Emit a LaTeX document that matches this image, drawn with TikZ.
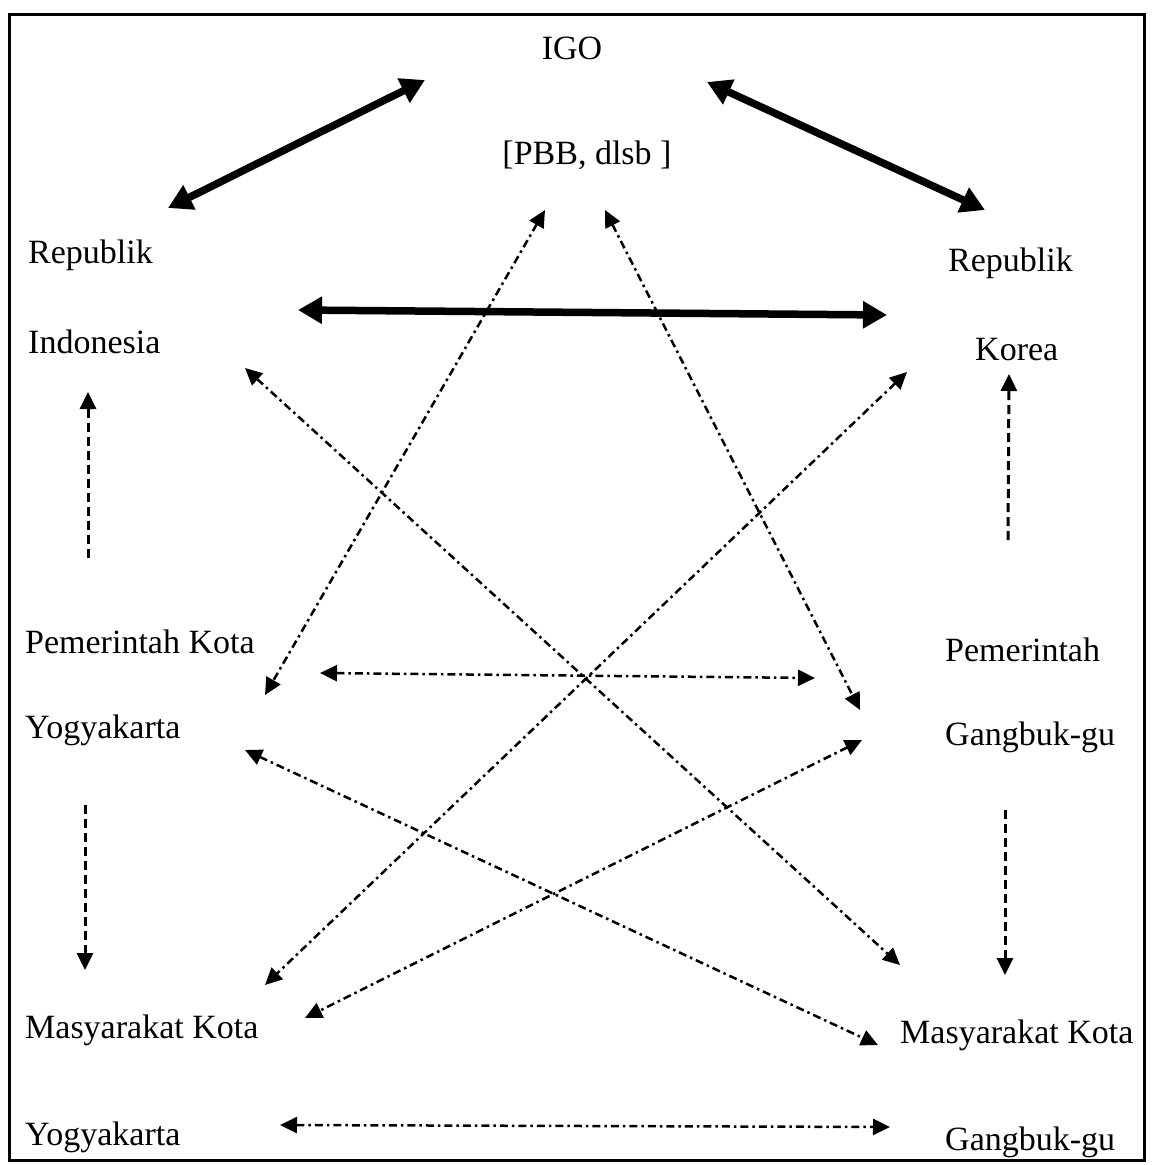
\documentclass[tikz,border=0pt]{standalone}
\usepackage{fontspec}
\setmainfont{Liberation Serif}
\newfontfamily\tnrfont{Liberation Serif}
\usetikzlibrary{arrows.meta}
\begin{document}
\begin{tikzpicture}[x=1pt,y=-1pt,
  lbl/.style={inner sep=0pt,font=\tnrfont\fontsize{34}{40}\selectfont},
  thick2/.style={line width=7.5pt,{Triangle[length=24pt,width=26pt]}-{Triangle[length=24pt,width=26pt]}},
  dd/.style={line width=2.5pt,dash pattern=on 8pt off 4pt on 2.5pt off 4pt,{Triangle[length=17pt,width=16pt]}-{Triangle[length=17pt,width=16pt]}},
  vd/.style={line width=3pt,dash pattern=on 9pt off 5pt,-{Triangle[length=17pt,width=16pt]}}]
\useasboundingbox (0,0) rectangle (1154,1165);
\draw[line width=3pt] (9,14) rectangle (1144,1160);
% texts
\node[lbl,anchor=center] (igo) at (572,48) {IGO};
\node[lbl,anchor=center] (pbb) at (587,155) {[PBB, dlsb ]};
\node[lbl,anchor=west] (ri1) at (28,255) {Republik};
\node[lbl,anchor=west] (ri2) at (28,342) {Indonesia};
\node[lbl,anchor=west] (rk1) at (948,263) {Republik};
\node[lbl,anchor=west] (rk2) at (975,350) {Korea};
\node[lbl,anchor=west] (py1) at (25,642) {Pemerintah Kota};
\node[lbl,anchor=west] (py2) at (25,730) {Yogyakarta};
\node[lbl,anchor=west] (pg1) at (945,650) {Pemerintah};
\node[lbl,anchor=west] (pg2) at (945,737) {Gangbuk-gu};
\node[lbl,anchor=west] (my1) at (25,1030) {Masyarakat Kota};
\node[lbl,anchor=west] (my2) at (25,1137) {Yogyakarta};
\node[lbl,anchor=west] (mg1) at (900,1035) {Masyarakat Kota};
\node[lbl,anchor=west] (mg2) at (945,1142) {Gangbuk-gu};
% connector ends
\coordinate (a1) at (425,80);  \coordinate (a2) at (168,208);
\coordinate (b1) at (707,82);  \coordinate (b2) at (985,210);
\coordinate (c1) at (298,310); \coordinate (c2) at (887,315);
\coordinate (d1) at (545,210); \coordinate (d2) at (265,695);
\coordinate (e1) at (605,210); \coordinate (e2) at (860,710);
\coordinate (f1) at (245,368); \coordinate (f2) at (900,965);
\coordinate (g1) at (907,372); \coordinate (g2) at (265,985);
\coordinate (h1) at (320,673); \coordinate (h2) at (815,678);
\coordinate (i1) at (862,740); \coordinate (i2) at (305,1018);
\coordinate (j1) at (245,750); \coordinate (j2) at (878,1045);
\coordinate (k1) at (280,1125); \coordinate (k2) at (890,1127);
\coordinate (l1) at (88,558);  \coordinate (l2) at (88,392);
\coordinate (m1) at (85,805);  \coordinate (m2) at (85,970);
\coordinate (n1) at (1008,540); \coordinate (n2) at (1009,374);
\coordinate (o1) at (1005,810); \coordinate (o2) at (1005,975);
% connectors
\draw[thick2] (a2) -- (a1);
\draw[thick2] (b1) -- (b2);
\draw[thick2] (c1) -- (c2);
\draw[dd] (d1) -- (d2);
\draw[dd] (e1) -- (e2);
\draw[dd] (f1) -- (f2);
\draw[dd] (g1) -- (g2);
\draw[dd] (h1) -- (h2);
\draw[dd] (i1) -- (i2);
\draw[dd] (j1) -- (j2);
\draw[dd] (k1) -- (k2);
\draw[vd] (l1) -- (l2);
\draw[vd] (m1) -- (m2);
\draw[vd] (n1) -- (n2);
\draw[vd] (o1) -- (o2);
\end{tikzpicture}
\end{document}
